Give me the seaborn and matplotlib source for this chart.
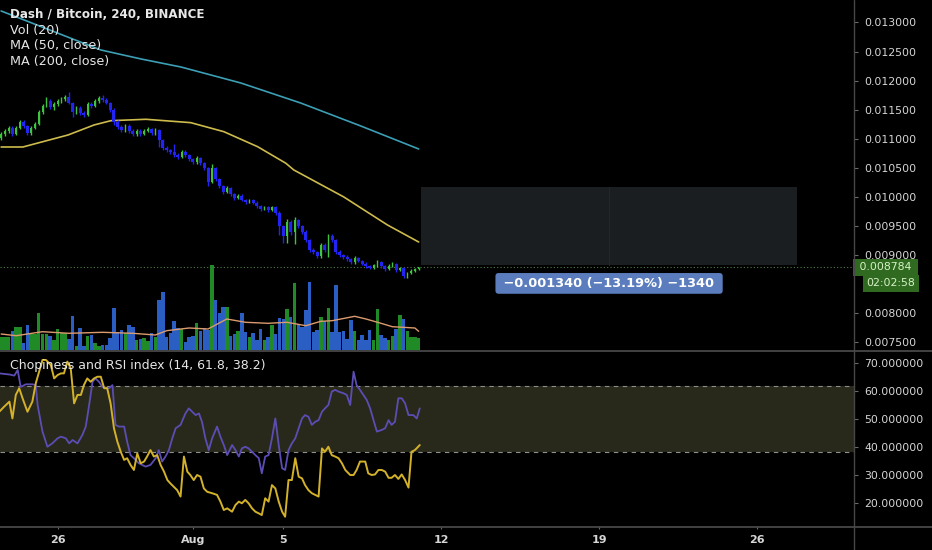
import numpy as np
import pandas as pd
import matplotlib
matplotlib.use("Agg")
import matplotlib.pyplot as plt
import seaborn as sns
from matplotlib.patches import Rectangle
from matplotlib.lines import Line2D
from matplotlib.ticker import FormatStrFormatter, FixedLocator

# ---------------- data ----------------
title_main = "Dash / Bitcoin, 240, BINANCE"
legend_rows = ["Vol (20)", "MA (50, close)", "MA (200, close)"]
title_osc = "Chopiness and RSI index (14, 61.8, 38.2)"

first_bar = pd.Timestamp("2019-07-23 12:00")
axis_origin = pd.Timestamp("2019-08-01 00:00")
bar_hours = 4

opens = [0.011012, 0.011081, 0.011133, 0.011184, 0.011081, 0.011184, 0.011288, 0.011219, 0.011098, 0.011184,
         0.011253, 0.011460, 0.011563, 0.011649, 0.011546, 0.011597, 0.011649, 0.011683, 0.011718, 0.011615,
         0.011460, 0.011529, 0.011442, 0.011408, 0.011597, 0.011563, 0.011649, 0.011701, 0.011666, 0.011615,
         0.011494, 0.011288, 0.011202, 0.011150, 0.011219, 0.011133, 0.011081, 0.011133, 0.011081, 0.011133,
         0.011167, 0.011098, 0.011150, 0.010978, 0.010840, 0.010806, 0.010771, 0.010720, 0.010685, 0.010771,
         0.010720, 0.010651, 0.010599, 0.010668, 0.010582, 0.010496, 0.010255, 0.010496, 0.010307, 0.010186,
         0.010083, 0.010152, 0.010048, 0.009980, 0.010014, 0.009945, 0.009911, 0.009945, 0.009894, 0.009842,
         0.009790, 0.009825, 0.009773, 0.009825, 0.009722, 0.009498, 0.009326, 0.009567, 0.009394, 0.009601,
         0.009498, 0.009394, 0.009257, 0.009085, 0.009050, 0.008981, 0.009171, 0.009085, 0.009326, 0.009257,
         0.009050, 0.008999, 0.008964, 0.008930, 0.008878, 0.008947, 0.008895, 0.008844, 0.008809, 0.008775,
         0.008827, 0.008878, 0.008809, 0.008758, 0.008809, 0.008844, 0.008741, 0.008775, 0.008637, 0.008689,
         0.008723, 0.008758]
closes = [0.011081, 0.011133, 0.011184, 0.011081, 0.011184, 0.011288, 0.011219, 0.011098, 0.011184, 0.011253,
          0.011460, 0.011563, 0.011649, 0.011546, 0.011597, 0.011649, 0.011683, 0.011718, 0.011615, 0.011460,
          0.011529, 0.011442, 0.011408, 0.011597, 0.011563, 0.011649, 0.011701, 0.011666, 0.011615, 0.011494,
          0.011288, 0.011202, 0.011150, 0.011219, 0.011133, 0.011081, 0.011133, 0.011081, 0.011133, 0.011167,
          0.011098, 0.011150, 0.010978, 0.010840, 0.010806, 0.010771, 0.010720, 0.010685, 0.010771, 0.010720,
          0.010651, 0.010599, 0.010668, 0.010582, 0.010496, 0.010255, 0.010496, 0.010307, 0.010186, 0.010083,
          0.010152, 0.010048, 0.009980, 0.010014, 0.009945, 0.009911, 0.009945, 0.009894, 0.009842, 0.009790,
          0.009825, 0.009773, 0.009825, 0.009722, 0.009498, 0.009326, 0.009567, 0.009394, 0.009601, 0.009498,
          0.009394, 0.009257, 0.009085, 0.009050, 0.008981, 0.009171, 0.009085, 0.009326, 0.009257, 0.009050,
          0.008999, 0.008964, 0.008930, 0.008878, 0.008947, 0.008895, 0.008844, 0.008809, 0.008775, 0.008827,
          0.008878, 0.008809, 0.008758, 0.008809, 0.008844, 0.008741, 0.008775, 0.008637, 0.008689, 0.008723,
          0.008758, 0.008784]
highs = [0.011110, 0.011165, 0.011215, 0.011210, 0.011220, 0.011320, 0.011330, 0.011240, 0.011210, 0.011290,
         0.011500, 0.011600, 0.011720, 0.011680, 0.011630, 0.011680, 0.011720, 0.011760, 0.011800, 0.011640,
         0.011560, 0.011560, 0.011470, 0.011640, 0.011630, 0.011690, 0.011740, 0.011760, 0.011700, 0.011640,
         0.011520, 0.011320, 0.011230, 0.011250, 0.011250, 0.011160, 0.011160, 0.011160, 0.011160, 0.011200,
         0.011190, 0.011180, 0.011170, 0.011000, 0.010870, 0.010830, 0.010900, 0.010750, 0.010800, 0.010800,
         0.010740, 0.010670, 0.010700, 0.010690, 0.010600, 0.010520, 0.010560, 0.010520, 0.010330, 0.010210,
         0.010180, 0.010170, 0.010070, 0.010040, 0.010040, 0.009970, 0.009970, 0.009970, 0.009920, 0.009860,
         0.009850, 0.009850, 0.009850, 0.009850, 0.009760, 0.009520, 0.009620, 0.009600, 0.009650, 0.009620,
         0.009520, 0.009420, 0.009280, 0.009110, 0.009070, 0.009200, 0.009200, 0.009360, 0.009360, 0.009280,
         0.009080, 0.009020, 0.008990, 0.008950, 0.008980, 0.008970, 0.008920, 0.008870, 0.008830, 0.008850,
         0.008910, 0.008900, 0.008830, 0.008840, 0.008870, 0.008860, 0.008800, 0.008790, 0.008710, 0.008750,
         0.008780, 0.008800]
lows = [0.010985, 0.011050, 0.011100, 0.011050, 0.011060, 0.011160, 0.011190, 0.011060, 0.011070, 0.011160,
        0.011230, 0.011430, 0.011540, 0.011510, 0.011500, 0.011570, 0.011620, 0.011650, 0.011590, 0.011380,
        0.011430, 0.011410, 0.011370, 0.011390, 0.011530, 0.011540, 0.011620, 0.011640, 0.011590, 0.011460,
        0.011240, 0.011160, 0.011110, 0.011120, 0.011100, 0.011040, 0.011050, 0.011050, 0.011060, 0.011110,
        0.011070, 0.011070, 0.010850, 0.010800, 0.010770, 0.010740, 0.010690, 0.010650, 0.010660, 0.010690,
        0.010620, 0.010570, 0.010570, 0.010550, 0.010460, 0.010180, 0.010230, 0.010270, 0.010150, 0.010050,
        0.010060, 0.010020, 0.009950, 0.009960, 0.009920, 0.009880, 0.009890, 0.009870, 0.009810, 0.009760,
        0.009770, 0.009740, 0.009750, 0.009690, 0.009350, 0.009200, 0.009200, 0.009350, 0.009180, 0.009460,
        0.009360, 0.009230, 0.009050, 0.009020, 0.008940, 0.008950, 0.009050, 0.008960, 0.009220, 0.009010,
        0.008970, 0.008930, 0.008900, 0.008850, 0.008850, 0.008870, 0.008820, 0.008780, 0.008750, 0.008750,
        0.008800, 0.008780, 0.008730, 0.008740, 0.008790, 0.008710, 0.008720, 0.008600, 0.008610, 0.008670,
        0.008700, 0.008740]
volumes = [13, 13, 13, 19, 23, 23, 7, 25, 16, 16,
           37, 16, 16, 14, 10, 21, 17, 17, 11, 34,
           4, 22, 4, 14, 15, 7, 4, 5, 5, 12,
           42, 18, 20, 17, 25, 23, 10, 11, 12, 9,
           17, 13, 50, 58, 13, 17, 29, 22, 21, 8,
           13, 14, 27, 19, 22, 20, 85, 50, 37, 43,
           43, 14, 16, 19, 37, 18, 13, 17, 10, 21,
           10, 13, 25, 16, 32, 31, 41, 33, 67, 26,
           23, 40, 68, 18, 20, 33, 29, 42, 18, 65,
           18, 19, 11, 30, 19, 10, 15, 10, 20, 10,
           41, 15, 12, 10, 14, 21, 35, 31, 19, 13,
           13, 12]

vol_ma_bar = [0, 4, 11, 18, 27, 35, 41, 44, 50, 55, 60, 65, 71, 76, 81, 85, 88, 94, 97, 101, 104, 110, 111]
vol_ma_val = [16.0, 14.3, 18.3, 16.7, 17.7, 16.7, 15.0, 19.3, 22.0, 21.0, 31.0, 27.7, 26.7, 27.7, 24.3, 28.7,
              29.3, 33.7, 31.0, 26.7, 23.3, 22.0, 18.7]

ma50_bar = [0, 5.8, 8.8, 17.8, 24.7, 29.2, 38.5, 50.4, 59.2, 68.2, 75.7, 77.8, 91.1, 102.7, 111]
ma50_val = [0.010857, 0.010857, 0.010909, 0.011064, 0.011236, 0.011310, 0.011334, 0.011276, 0.011121,
            0.010862, 0.010577, 0.010462, 0.009997, 0.009515, 0.009222]
ma200_bar = [0, 26.5, 37.2, 47.8, 63.7, 79.6, 95.6, 111]
ma200_val = [0.013198, 0.012527, 0.012372, 0.012234, 0.011959, 0.011615, 0.011219, 0.010823]

chop_bar = [-0.5, 2.2, 3.5, 4.4, 5.2, 6.6, 8.3, 9.2, 9.7, 11.0,
            12.3, 13.6, 15.0, 15.9, 17.2, 18.1, 19.0, 20.3, 21.6, 22.5,
            23.4, 24.3, 25.1, 26.0, 26.9, 27.8, 28.7, 29.6, 30.4, 31.3,
            32.7, 33.5, 34.4, 35.3, 36.6, 38.4, 39.7, 41.1, 41.9, 42.8,
            43.7, 44.6, 45.5, 46.4, 47.7, 49.0, 49.9, 50.8, 51.7, 52.6,
            53.4, 54.3, 55.2, 56.1, 57.4, 58.3, 59.2, 60.1, 61.4, 62.3,
            63.2, 64.0, 64.9, 65.8, 66.7, 67.6, 68.5, 69.3, 70.2, 71.1,
            72.0, 72.9, 73.8, 74.7, 75.5, 76.4, 77.3, 78.2, 79.1, 80.0,
            80.8, 81.7, 82.6, 83.5, 84.4, 85.3, 86.1, 87.0, 87.9, 88.8,
            89.7, 91.0, 91.9, 92.8, 93.7, 94.5, 95.4, 96.3, 97.2, 98.1,
            99.0, 99.9, 101.2, 102.1, 103.0, 103.8, 104.7, 105.6, 106.5, 107.4,
            108.3, 109.6, 110.5, 111.3]
chop_val = [66.3, 65.9, 65.5, 67.5, 61.5, 62.4, 62.4, 62.1, 55.0, 45.5,
            40.1, 41.3, 43.1, 43.7, 43.1, 41.3, 42.5, 41.3, 44.3, 47.3,
            55.0, 63.3, 64.5, 63.3, 61.5, 61.0, 61.0, 62.1, 47.9, 47.3,
            47.3, 41.9, 37.1, 36.0, 34.2, 33.0, 33.6, 36.0, 38.9, 34.8,
            36.6, 38.9, 43.1, 46.7, 47.9, 52.0, 53.8, 52.6, 51.4, 52.0,
            49.0, 43.1, 38.9, 43.1, 47.3, 43.7, 40.7, 37.1, 40.7, 38.9,
            36.6, 39.5, 40.1, 39.5, 38.3, 37.1, 36.0, 30.6, 36.6, 37.1,
            43.1, 50.2, 40.7, 32.4, 31.8, 38.9, 41.3, 43.1, 46.7, 50.2,
            51.4, 50.8, 47.9, 49.0, 49.6, 52.6, 53.8, 55.0, 59.8, 60.4,
            59.8, 59.2, 58.6, 55.0, 66.9, 62.1, 60.4, 58.6, 56.8, 53.8,
            49.6, 45.5, 46.1, 46.7, 49.6, 47.9, 49.0, 57.4, 57.4, 55.6,
            51.4, 51.4, 50.2, 53.8]
rsi_bar = [-0.5, 0.8, 2.2, 3.0, 3.9, 4.8, 5.7, 7.0, 8.3, 9.2,
           10.1, 11.0, 11.9, 13.2, 14.1, 15.0, 15.9, 16.7, 17.6, 18.5,
           19.4, 20.3, 21.2, 22.0, 22.9, 23.8, 24.7, 25.6, 26.5, 27.4,
           28.2, 29.1, 30.0, 30.9, 31.8, 32.7, 33.5, 34.4, 35.3, 36.2,
           37.1, 38.0, 38.8, 39.7, 40.6, 41.5, 42.4, 43.3, 44.2, 45.0,
           45.9, 46.8, 47.7, 48.6, 49.5, 50.3, 51.2, 52.1, 53.0, 53.9,
           54.8, 56.1, 57.4, 58.3, 59.2, 60.1, 61.4, 62.3, 63.2, 64.0,
           64.9, 65.8, 66.7, 67.6, 68.5, 69.3, 70.2, 71.1, 72.0, 72.9,
           73.8, 74.7, 75.5, 76.4, 77.3, 78.2, 79.1, 80.0, 80.8, 81.7,
           82.6, 83.5, 84.4, 85.3, 86.1, 87.0, 87.9, 88.8, 89.7, 90.6,
           91.5, 92.8, 93.7, 94.5, 95.4, 96.8, 97.6, 98.5, 99.4, 100.3,
           101.2, 102.1, 103.0, 103.8, 104.7, 105.6, 106.5, 107.4, 108.3, 109.1,
           110.0, 111.3]
rsi_val = [52.6, 54.4, 56.2, 50.2, 58.6, 61.0, 57.4, 52.6, 56.2, 62.7,
           66.9, 71.1, 71.1, 69.3, 64.5, 65.7, 66.3, 66.3, 70.5, 68.1,
           55.6, 58.6, 58.6, 62.1, 64.5, 63.3, 64.5, 65.1, 65.1, 61.0,
           61.0, 55.6, 46.7, 41.9, 38.3, 35.4, 36.0, 33.6, 31.8, 37.7,
           34.2, 34.8, 36.6, 38.9, 36.6, 37.1, 33.6, 31.2, 28.2, 27.0,
           25.8, 24.6, 22.3, 36.6, 31.2, 30.0, 28.2, 30.0, 29.4, 25.2,
           24.0, 23.5, 22.9, 20.5, 17.5, 18.1, 16.9, 19.3, 20.5, 19.9,
           21.1, 19.9, 18.1, 16.9, 16.3, 15.7, 21.7, 20.5, 26.4, 25.2,
           20.5, 16.9, 15.1, 28.2, 28.2, 36.0, 29.4, 28.8, 26.4, 24.6,
           23.5, 22.9, 22.3, 39.5, 38.3, 40.1, 37.1, 36.6, 36.0, 34.2,
           31.8, 30.0, 30.0, 31.8, 34.8, 34.8, 30.6, 30.0, 30.2, 31.8,
           31.8, 31.2, 29.0, 29.0, 30.0, 28.6, 30.2, 28.2, 25.5, 38.3,
           38.9, 40.7]
band_upper = 61.8
band_lower = 38.2

measure_start = pd.Timestamp("2019-08-11 03:00")
measure_end = pd.Timestamp("2019-08-27 18:00")
measure_from = 0.010160
measure_to = 0.008820
countdown = "02:02:58"

price_ticks = [0.0075, 0.0080, 0.0090, 0.0095, 0.0100, 0.0105, 0.0110, 0.0115, 0.0120, 0.0125, 0.0130]
osc_ticks = [20, 30, 40, 50, 60, 70]
date_ticks = [pd.Timestamp("2019-07-26"), pd.Timestamp("2019-08-01"), pd.Timestamp("2019-08-05"),
              pd.Timestamp("2019-08-12"), pd.Timestamp("2019-08-19"), pd.Timestamp("2019-08-26")]
date_labels = ["26", "Aug", "5", "12", "19", "26"]

# ---------------- styling ----------------
sns.set_theme(style="dark", rc={"axes.facecolor": "none", "figure.facecolor": "#000000"})
plt.rcParams["font.family"] = ["DejaVu Sans"]

C_UP = "#3fc43f"
C_DN = "#2323f2"
C_VUP = "#1f8a26"
C_VDN = "#2a5ec2"
C_VMA = "#dc9a6e"
C_MA50 = "#cdbb4c"
C_MA200 = "#3c9fb5"
C_CHOP = "#5b4db3"
C_RSI = "#d3b22a"
C_TXT = "#d6d6d6"
C_SEP = "#474747"

W, H = 932, 550
fig = plt.figure(figsize=(W / 100, H / 100), dpi=100, facecolor="#000000")

PLOT_R = 854
ax_v = fig.add_axes([0, 1 - 350 / H, PLOT_R / W, 350 / H])
ax = fig.add_axes([0, 1 - 350 / H, PLOT_R / W, 350 / H], sharex=ax_v)
ax2 = fig.add_axes([0, 1 - 526 / H, PLOT_R / W, (526 - 351) / H], sharex=ax_v)
for a in (ax_v, ax, ax2):
    a.set_facecolor("none")
    for s in a.spines.values():
        s.set_visible(False)
    a.grid(False)
ax_v.set_zorder(0)
ax.set_zorder(1)

n = len(closes)
times = pd.date_range(first_bar, periods=n, freq=f"{bar_hours}h")
day = lambda ts: (pd.to_datetime(ts) - axis_origin) / pd.Timedelta(days=1)
t = np.asarray(day(times), dtype=float)
bar_to_day = lambda b: day(first_bar) + np.asarray(b, dtype=float) * bar_hours / 24

o = np.array(opens); c = np.array(closes); h = np.array(highs); l = np.array(lows)
up = c >= o

# ---- volume ----
vcol = [C_VUP if u else C_VDN for u in up]
ax_v.bar(t, volumes, width=bar_hours / 24 * 0.92, color=vcol, linewidth=0, zorder=1)
sns.lineplot(x=bar_to_day(vol_ma_bar), y=vol_ma_val, ax=ax_v, color=C_VMA, lw=1.0, zorder=2, legend=False)
ax_v.set_ylim(0, 350)
ax_v.set_yticks([])
ax_v.tick_params(axis="x", bottom=False, labelbottom=False)

# ---- measure box ----
ms, me = float(day(measure_start)), float(day(measure_end))
ax.add_patch(Rectangle((ms, measure_to), me - ms, measure_from - measure_to, facecolor="#1b1e21",
                       edgecolor="none", zorder=0.5))
ax.plot([(ms + me) / 2] * 2, [measure_to, measure_from], color="#23272b", lw=0.8, zorder=0.6)
diff = measure_to - measure_from
label = " \u2212{:.6f} (\u2212{:.2f}%) \u2212{:d} ".format(abs(diff), abs(diff) / measure_from * 100,
                                                         int(round(abs(diff) * 1e6)))
ax.annotate(label, xy=((ms + me) / 2, measure_to), xytext=(0, -13), textcoords="offset points",
            ha="center", va="center", color="white", fontsize=9.3, fontweight="bold", zorder=5,
            bbox=dict(boxstyle="round,pad=0.3,rounding_size=0.25", fc="#5b7dbd", ec="none"))

# ---- moving averages ----
sns.lineplot(x=bar_to_day(ma200_bar), y=ma200_val, ax=ax, color=C_MA200, lw=1.2, legend=False, zorder=2)
sns.lineplot(x=bar_to_day(ma50_bar), y=ma50_val, ax=ax, color=C_MA50, lw=1.2, legend=False, zorder=2)

# ---- candles ----
wick_col = [C_UP if u else C_DN for u in up]
ax.vlines(t, l, h, colors=wick_col, lw=1.0, zorder=3)
bw_dn = bar_hours / 24 * 0.8
bw_up = bar_hours / 24 * 0.4
ax.bar(t[~up], (o - c)[~up], bottom=c[~up], width=bw_dn, color=C_DN, linewidth=0, zorder=4)
ax.bar(t[up], np.maximum((c - o)[up], 0.000006), bottom=o[up], width=bw_up, color=C_UP,
       linewidth=0, zorder=4)

last = closes[-1]
ax.axhline(last, color="#4f7d45", ls=(0, (1, 2)), lw=0.8, zorder=1.5)

ax.set_ylim(0.007363, 0.013387)
ax.set_xlim(float(day(first_bar)) - 0.05, 29.29)
ax.yaxis.tick_right()
ax.yaxis.set_major_locator(FixedLocator(price_ticks))
ax.yaxis.set_major_formatter(FormatStrFormatter("%.6f"))
ax.tick_params(axis="y", right=True, left=False, labelright=True, labelleft=False, length=3,
               width=0.8, color="#6a6a6a", labelcolor=C_TXT, labelsize=7.8, pad=4.2)
ax.tick_params(axis="x", bottom=False, labelbottom=False)

# price label on axis
tr = ax.get_yaxis_transform()
ax.text(1.0 + 2 / PLOT_R, last, f" {last:.6f} ", transform=tr,
        ha="left", va="center", fontsize=7.8, color="#d8f2c8", clip_on=False, zorder=10,
        bbox=dict(boxstyle="square,pad=0.3", fc="#2f6a20", ec="none"))
ax.annotate(countdown, xy=(1.0, last), xycoords=tr, xytext=(9, -11.5), textcoords="offset points",
            ha="left", va="center", fontsize=7.8, color="#d8f2c8", annotation_clip=False, zorder=10,
            bbox=dict(boxstyle="square,pad=0.3", fc="#2f6a20", ec="none"))

# ---- oscillator pane ----
ax2.axhspan(band_lower, band_upper, color="#29291b", lw=0, zorder=0)
for v in (band_upper, band_lower):
    ax2.axhline(v, color="#8e8e8e", ls=(0, (4, 4)), lw=0.8, zorder=1)
sns.lineplot(x=bar_to_day(chop_bar), y=chop_val, ax=ax2, color=C_CHOP, lw=1.3, legend=False, zorder=2)
sns.lineplot(x=bar_to_day(rsi_bar), y=rsi_val, ax=ax2, color=C_RSI, lw=1.4, legend=False, zorder=3)
ax2.set_ylim(11.79, 74.29)
ax2.yaxis.tick_right()
ax2.yaxis.set_major_locator(FixedLocator(osc_ticks))
ax2.yaxis.set_major_formatter(FormatStrFormatter("%.6f"))
ax2.tick_params(axis="y", right=True, left=False, labelright=True, labelleft=False, length=3,
                width=0.8, color="#6a6a6a", labelcolor=C_TXT, labelsize=7.8, pad=4.2)
ax2.set_xticks([float(day(d)) for d in date_ticks])
ax2.set_xticklabels(date_labels)
ax2.tick_params(axis="x", bottom=True, length=2.2, width=0.8, color="#6a6a6a", labelcolor=C_TXT,
                labelsize=8, pad=4.0)
for lab in ax2.get_xticklabels():
    lab.set_fontweight("bold")
ax_v.set_xlim(float(day(first_bar)) - 0.05, 29.29)
for a in (ax_v, ax, ax2):
    a.set_xlabel(""); a.set_ylabel("")

# ---- separators ----
fig.add_artist(Line2D([0, 1], [1 - 350.5 / H] * 2, color=C_SEP, lw=1.3, transform=fig.transFigure))
fig.add_artist(Line2D([0, 1], [1 - 526.5 / H] * 2, color=C_SEP, lw=1.3, transform=fig.transFigure))
fig.add_artist(Line2D([PLOT_R / W] * 2, [0, 1], color=C_SEP, lw=1.0, transform=fig.transFigure))

# ---- legend texts ----
fig.text(10 / W, 1 - 15 / H, title_main, ha="left", va="center", color="#e8e8e8", fontsize=8.6,
         fontweight="bold")
for k, row in enumerate(legend_rows):
    fig.text(10 / W, 1 - (30.5 + 15.3 * k) / H, row, ha="left", va="center", color="#e6e6e6", fontsize=9.2)
fig.text(10 / W, 1 - 366 / H, title_osc, ha="left", va="center", color="#e6e6e6", fontsize=9.0)

fig.savefig("out.png", dpi=100, facecolor="#000000")
